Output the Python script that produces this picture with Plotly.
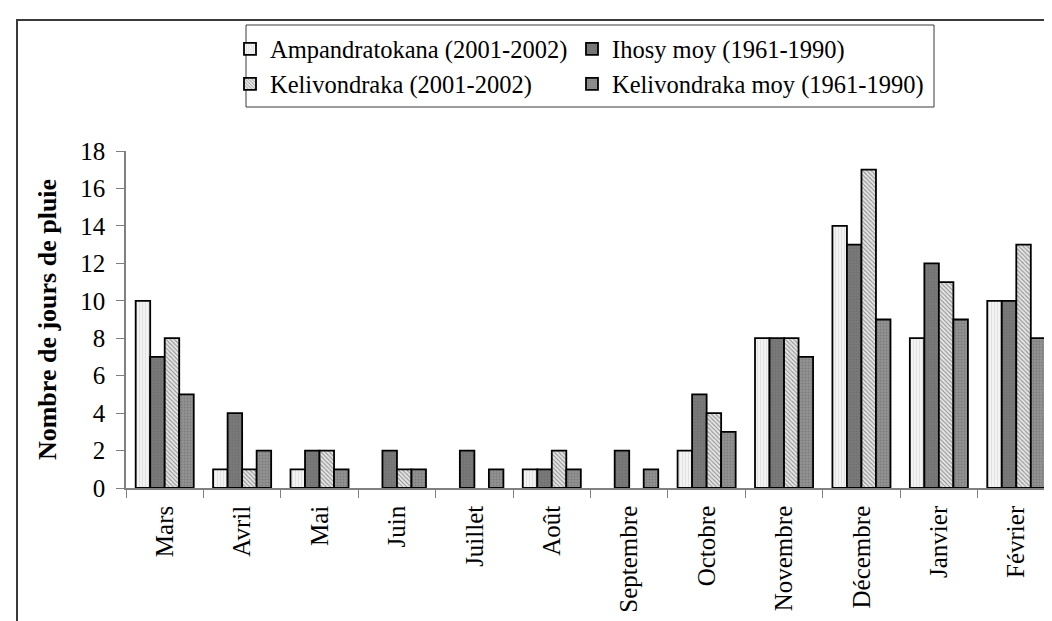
import plotly.graph_objects as go

# Données : nombre de jours de pluie par mois
mois = ['Mars', 'Avril', 'Mai', 'Juin', 'Juillet', 'Août', 'Septembre',
        'Octobre', 'Novembre', 'Décembre', 'Janvier', 'Février']
ampandratokana = [10, 1, 1, 0, 0, 1, 0, 2, 8, 14, 8, 10]
ihosy_moy = [7, 4, 2, 2, 2, 1, 2, 5, 8, 13, 12, 10]
kelivondraka = [8, 1, 2, 1, 0, 2, 0, 4, 8, 17, 11, 13]
kelivondraka_moy = [5, 2, 1, 1, 1, 1, 1, 3, 7, 9, 9, 8]
y_ticks = [0, 2, 4, 6, 8, 10, 12, 14, 16, 18]

FONT = 'Liberation Serif, Times New Roman, serif'

# Zone de tracé en pixels (fenêtre 1052x621)
W, H = 1052, 621
L, R, T, B = 118, 1047, 143, 480


def px_x(px):
    return (px - L) / (R - L)


def px_y(py):
    return (B - py) / (B - T)


series = [
    # nom, valeurs, couleur fond, motif, couleur motif, légende, largeur légende
    ('Ampandratokana (2001-2002)', ampandratokana, '#f3f3f3', '|', '#cfcfcf', 'legend', 297),
    ('Ihosy moy (1961-1990)', ihosy_moy, '#7a7a7a', '.', '#636363', 'legend', 330),
    ('Kelivondraka (2001-2002)', kelivondraka, '#e6e6e6', '\\', '#3a3a3a', 'legend2', 297),
    ('Kelivondraka moy (1961-1990)', kelivondraka_moy, '#929292', '.', '#686868', 'legend2', 330),
]

fig = go.Figure()

for name, vals, bg, shape, fg, leg, lw in series:
    fig.add_trace(go.Bar(
        x=mois,
        y=vals,
        name=name,
        legend=leg,
        legendwidth=lw,
        marker=dict(
            color=bg,
            # pas de contour pour les barres nulles (comme dans Excel)
            line=dict(color='black', width=[1.8 if v > 0 else 0 for v in vals]),
            pattern=dict(shape=shape, fgcolor=fg, bgcolor=bg, size=3, solidity=0.35),
        ),
    ))

# Cadre extérieur
fig.add_shape(type='rect', xref='paper', yref='paper',
              x0=px_x(9), x1=px_x(W + 20), y0=px_y(H + 20), y1=px_y(12),
              line=dict(color='#3a3a3a', width=2), layer='above')
# Cadre de la légende
fig.add_shape(type='rect', xref='paper', yref='paper',
              x0=px_x(238), x1=px_x(926), y0=px_y(99), y1=px_y(17),
              line=dict(color='#3a3a3a', width=1), layer='above')

legend_common = dict(
    orientation='h', xanchor='left', yanchor='middle',
    font=dict(family=FONT, size=24.5, color='black'),
    bgcolor='rgba(0,0,0,0)', borderwidth=0,
)

fig.update_layout(
    width=W, height=H,
    margin=dict(l=L, r=W - R, t=T, b=H - B, autoexpand=False),
    paper_bgcolor='white',
    plot_bgcolor='white',
    barmode='group',
    bargap=0.25,
    bargroupgap=0,
    font=dict(family=FONT, size=25, color='black'),
    legend=dict(x=px_x(222), y=px_y(41), **legend_common),
    legend2=dict(x=px_x(222), y=px_y(76), **legend_common),
)

fig.update_xaxes(
    type='category',
    tickangle=-90,
    tickson='boundaries',
    ticks='outside', ticklen=8, tickcolor='#808080',
    showline=True, linecolor='#808080', linewidth=1.5,
    showgrid=False,
    ticklabelstandoff=6,
    tickfont=dict(family=FONT, size=25, color='black'),
)

fig.update_yaxes(
    range=[0, 18],
    tickvals=y_ticks,
    ticks='outside', ticklen=8, tickcolor='#808080',
    showline=True, linecolor='#808080', linewidth=1.5,
    showgrid=False, zeroline=False,
    ticklabelstandoff=6,
    tickfont=dict(family=FONT, size=25, color='black'),
    title=dict(text='<b>Nombre de jours de pluie</b>',
               font=dict(family=FONT, size=26, color='black'), standoff=16),
)

fig.write_html('out.html')
